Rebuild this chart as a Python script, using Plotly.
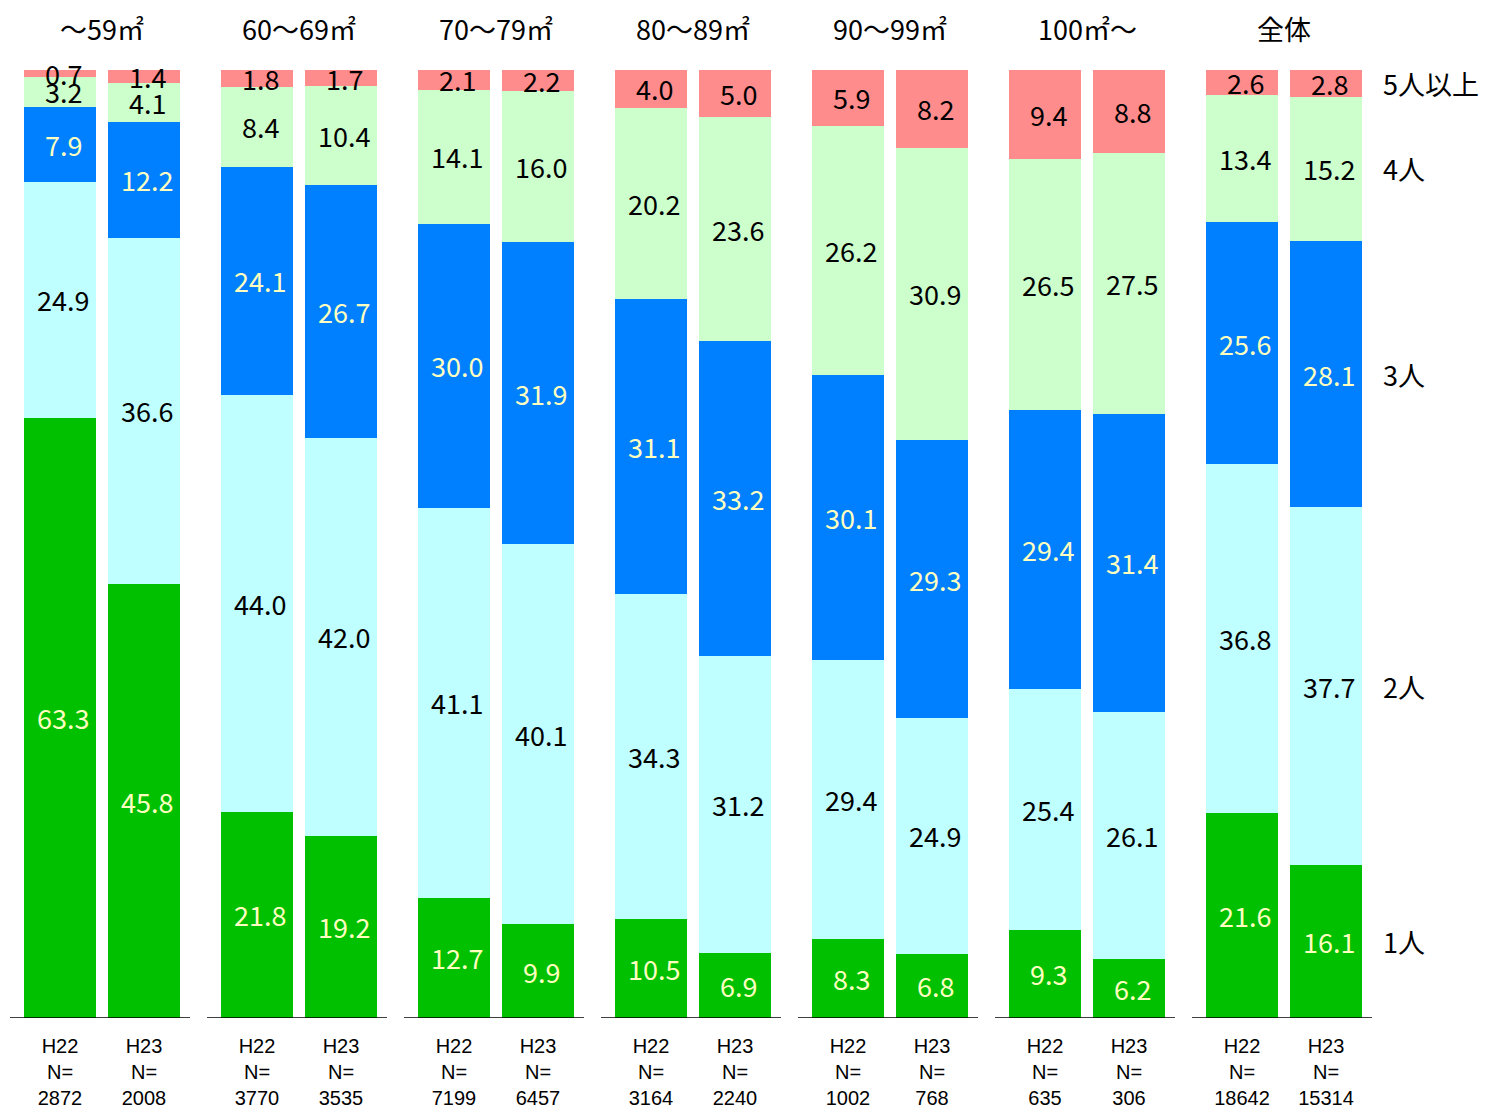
import plotly.graph_objects as go
import numpy as np

#
# Data
#
groups = ['～59㎡', '60～69㎡', '70～79㎡', '80～89㎡', '90～99㎡', '100㎡～', '全体']
years = ['H22', 'H23']
n_h22 = [2872, 3770, 7199, 3164, 1002, 635, 18642]
n_h23 = [2008, 3535, 6457, 2240, 768, 306, 15314]

series = ['1人', '2人', '3人', '4人', '5人以上']
colors = ['#00C000', '#BFFFFF', '#0080FF', '#CCFFCC', '#FF8C8C']
text_colors = ['#FFFFC0', 'black', '#FFFFC0', 'black', 'black']

# values per bar: H22/H23 alternating per group
one_person = [63.3, 45.8, 21.8, 19.2, 12.7, 9.9, 10.5, 6.9, 8.3, 6.8, 9.3, 6.2, 21.6, 16.1]
two_person = [24.9, 36.6, 44.0, 42.0, 41.1, 40.1, 34.3, 31.2, 29.4, 24.9, 25.4, 26.1, 36.8, 37.7]
three_person = [7.9, 12.2, 24.1, 26.7, 30.0, 31.9, 31.1, 33.2, 30.1, 29.3, 29.4, 31.4, 25.6, 28.1]
four_person = [3.2, 4.1, 8.4, 10.4, 14.1, 16.0, 20.2, 23.6, 26.2, 30.9, 26.5, 27.5, 13.4, 15.2]
five_plus = [0.7, 1.4, 1.8, 1.7, 2.1, 2.2, 4.0, 5.0, 5.9, 8.2, 9.4, 8.8, 2.6, 2.8]

values = [one_person, two_person, three_person, four_person, five_plus]

#
# Positions
#
# the page body has an 8px margin, so the figure is a bit smaller and the x range is shifted
PAD = 8
W, H = 1495 - PAD, 1112 - PAD
group_step = 197
first_bar = 60
bar_gap = 84
bar_w = 72
font = 'Noto Sans CJK JP'
fsize = 27

xs = []
ticktext = []
for g in range(len(groups)):
    for k, yr in enumerate(years):
        xs.append(first_bar + group_step * g + bar_gap * k)
        nn = n_h22[g] if k == 0 else n_h23[g]
        ticktext.append(yr + '<br>N=<br>' + str(nn))

totals = np.sum(np.array(values), axis=0)

fig = go.Figure()
for s, name in enumerate(series):
    fig.add_trace(go.Bar(x=xs, y=values[s], name=name, width=bar_w,
                         marker_color=colors[s], marker_line_width=0,
                         hoverinfo='skip'))

fig.update_layout(barmode='stack', barnorm='percent')

#
# Segment labels
#
cum = np.zeros(len(xs))
for s in range(len(series)):
    v = np.array(values[s])
    mids = (cum + v / 2) / totals * 100
    for i, x in enumerate(xs):
        fig.add_annotation(x=x, y=mids[i], text='%.1f' % v[i], showarrow=False,
                           xshift=3, font=dict(size=fsize, color=text_colors[s], family=font))
    cum = cum + v

# series labels at right, aligned with the last bar
last = len(xs) - 1
cum_last = 0
for s, name in enumerate(series):
    v = values[s][last]
    mid = (cum_last + v / 2) / totals[last] * 100
    fig.add_annotation(x=1381, y=mid, text=name, showarrow=False, xanchor='left',
                       font=dict(size=fsize, color='black', family=font))
    cum_last += v

# group titles and base lines
for g, name in enumerate(groups):
    left = xs[2 * g] - bar_w / 2
    right = xs[2 * g + 1] + bar_w / 2
    fig.add_annotation(x=(left + right) / 2, y=1, yref='paper', yanchor='middle',
                       yshift=42, text=name,
                       showarrow=False, font=dict(size=fsize, color='black', family=font))
    fig.add_shape(type='line', x0=left - 14, x1=right + 10, y0=0, y1=0,
                  line=dict(color='black', width=1.5))

fig.update_layout(
    width=W, height=H, autosize=False,
    margin=dict(l=0, r=0, t=70 - PAD, b=H - (1018 - PAD), autoexpand=False),
    paper_bgcolor='white', plot_bgcolor='white',
    showlegend=False, font=dict(family=font, color='black'),
)
fig.update_xaxes(range=[PAD, PAD + W], tickvals=xs, ticktext=ticktext, showgrid=False,
                 zeroline=False, showline=False, ticks='', tickangle=0,
                 ticklabelstandoff=14, automargin=False,
                 tickfont=dict(size=20, family='Liberation Sans'))
fig.update_yaxes(range=[0, 100], visible=False, automargin=False)

fig.write_html("out.html")
